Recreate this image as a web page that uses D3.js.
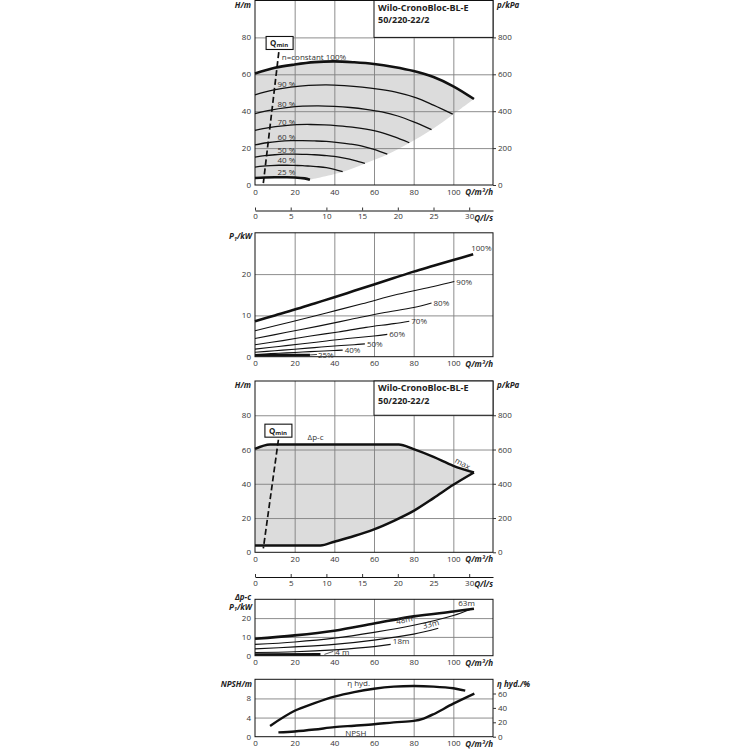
<!DOCTYPE html>
<html>
<head>
<meta charset="utf-8">
<script src="https://cdn.jsdelivr.net/npm/d3@7"></script>
<style>
body { margin: 0; background: #fff; }
svg { display: block; }
</style>
</head>
<body>
<script>
// ---- data ----
const flowTicks = [0, 20, 40, 60, 80, 100];
const flowGrid = [20, 40, 60, 80, 100];
const litreTicks = [0, 5, 10, 15, 20, 25, 30];
const headTicks = [0, 20, 40, 60, 80];
const pressureTicks = [0, 200, 400, 600, 800];
const powerTicks = [0, 10, 20];
const npshTicks = [0, 4, 8];
const effTicks = [0, 20, 40, 60];
const titleLines = ['Wilo-CronoBloc-BL-E', '50/220-22/2'];

// H(Q) at constant speed, [Q m3/h, H m]
const head100 = [[0,60.4],[10,63.5],[20,65.3],[30,66.6],[40,67],[50,66.5],[60,65.6],[70,64],[80,61.8],[90,58.5],[100,53.5],[110.4,46.6]];
const head90 = [[0,48.9],[9,51.4],[18,53],[27,54],[36,54.3],[45,53.9],[54,53.1],[63,51.8],[72,50.1],[81,47.4],[90,43.3],[99.7,38.4]];
const head80 = [[0,38.7],[8,40.6],[16,41.9],[24,42.7],[32,42.9],[40,42.6],[48,42],[56,41],[64,39.6],[72,37.4],[80,34.2],[89,30]];
const head70 = [[0,29.6],[7,31.1],[14,32.1],[21,32.7],[28,32.8],[35,32.6],[42,32.1],[49,31.4],[56,30.3],[63,28.7],[70,26.2],[77.8,22.9]];
const head60 = [[0,21.7],[6,22.9],[12,23.6],[18,24],[24,24.1],[30,23.9],[36,23.6],[42,23],[48,22.2],[54,21.1],[60,19.3],[66.7,16.7]];
const head50 = [[0,15.1],[5,15.9],[10,16.4],[15,16.7],[20,16.75],[25,16.6],[30,16.4],[35,16],[40,15.5],[45,14.6],[50,13.4],[55.4,11.7]];
const head40 = [[0,9.7],[4,10.2],[8,10.5],[12,10.7],[16,10.7],[20,10.6],[24,10.5],[28,10.2],[32,9.9],[36,9.4],[40,8.5],[44.2,7.2]];
const head25 = [[0,3.8],[5,4.1],[10,4.2],[15,4.2],[20,4.1],[25,3.6],[27.7,2.9]];
const headNames = ['n=constant 100%', '90 %', '80 %', '70 %', '60 %', '50 %', '40 %', '25 %'];
const shadeEdge = [[110.4,46.6],[100,38.4],[89,30],[78,22.9],[67,16.7],[55.5,11.7],[44.5,7.2],[27.7,2.9]];
const qminLine1 = [[12,72],[4.2,1]];

// P1(Q) at constant speed, [Q, kW]
const power100 = [[0,8.6],[10,10],[20,11.4],[30,12.9],[40,14.4],[50,15.95],[60,17.5],[70,19.05],[80,20.6],[90,22],[100,23.4],[110,24.8]];
const power90 = [[0,6.3],[18,8.4],[36,10.6],[54,12.8],[72,15.1],[90,17],[100.5,18.2]];
const power80 = [[0,4.4],[16,5.9],[32,7.4],[48,9],[64,10.6],[80,11.9],[89,13]];
const power70 = [[0,2.9],[14,3.9],[28,5],[42,6],[56,7.1],[70,8],[77.8,8.6]];
const power60 = [[0,1.84],[12,2.48],[24,3.13],[36,3.8],[48,4.47],[60,5.03],[66.7,5.4]];
const power50 = [[0,1.06],[10,1.44],[20,1.81],[30,2.2],[40,2.59],[50,2.91],[55.4,3.1]];
const power40 = [[0,0.54],[8,0.74],[16,0.93],[24,1.13],[32,1.32],[40,1.49],[44.2,1.6]];
const power25 = [[0,0.35],[14,0.38],[27.7,0.42]];
const powerNames = ['100%', '90%', '80%', '70%', '60%', '50%', '40%', '25%'];

// delta p-c control range
const dpcUpper = [[0,60.4],[7.6,63],[40,63],[72.5,63],[80,60.2],[90,55.7],[100,50.5],[110.4,46.6]];
const dpcLower = [[0,4],[33,4],[40,6.2],[50,9.5],[60,13.4],[70,18.4],[80,24.2],[90,31.6],[100,39.4],[110.4,46.6]];
const qminLine3 = [[11.8,65.7],[4.2,2.3]];

// P1 at constant differential pressure
const dpcPower63 = [[0,9],[20,10.8],[40,13.3],[60,17.1],[80,20.9],[100,23.5],[110.4,25]];
const dpcPower48 = [[0,6],[20,7.3],[40,9.3],[60,12.4],[80,16.2],[100,21.4],[108.5,24.6]];
const dpcPower33 = [[0,3.6],[20,4.7],[40,6],[60,8.3],[80,11.5],[92.4,14.6]];
const dpcPower18 = [[0,1.7],[20,2.1],[40,3.1],[60,4.8],[68.4,6]];
const dpcPower4 = [[0,0.6],[33,0.7]];
const dpcNames = ['63m', '48m', '33m', '18m', '4 m'];

// efficiency and NPSH
const effHyd = [[7.6,15],[20,36],[30,46.5],[40,55.6],[50,62],[60,66.6],[70,69.5],[80,70.4],[90,69.6],[100,67.3],[106,64]];
const npsh = [[11.8,0.9],[20,1.1],[30,1.5],[40,2],[50,2.3],[60,2.6],[70,3],[80,3.3],[85,3.8],[90,4.7],[100,6.9],[110.6,9]];

// ---- drawing ----
const GRID = '#808080';
const INK = '#111';
const TXT = '#333';
const SHADE = '#dcdcdc';
const FONT = '"Open Sans", "DejaVu Sans", sans-serif';

function trans(x, y) {
	return 'translate(' + x + ',' + y + ')';
}

const svg = d3.select('body').append('svg')
	.attr('width', 750)
	.attr('height', 750)
	.attr('font-family', FONT);

const xQ = d3.scaleLinear().domain([0, 120]).range([255, 493]);
const xLs = d3.scaleLinear().domain([0, 120 / 3.6]).range([255, 493]);

function lineFor(y, curveType) {
	return d3.line().x(d => xQ(d[0])).y(d => y(d[1]))
		.curve(curveType || d3.curveCatmullRom.alpha(0.5));
}

function styleAxis(a) {
	a.attr('font-size', 8).attr('font-family', FONT).attr('color', TXT);
}

function axisTitle(x, y, html, anchor) {
	svg.append('text')
		.attr('x', x).attr('y', y)
		.attr('font-size', 8).attr('font-weight', 'bold').attr('font-style', 'italic')
		.attr('fill', '#222')
		.attr('text-anchor', anchor || 'start')
		.html(html);
}

function label(x, y, txt, rot) {
	const t = svg.append('text')
		.attr('x', x).attr('y', y)
		.attr('font-size', 8).attr('fill', TXT)
		.text(txt);
	if (rot) t.attr('transform', 'rotate(' + rot + ',' + x + ',' + y + ')');
	return t;
}

function frame(y, hGrid, leftTicks) {
	const y0 = y.range()[0], y1 = y.range()[1];
	const g = svg.append('g');
	g.append('g').attr('transform', trans(0, y0))
		.call(d3.axisBottom(xQ).tickValues(flowGrid).tickSize(-(y0 - y1)).tickFormat(''))
		.call(a => a.select('.domain').remove())
		.attr('color', GRID)
		.selectAll('line').attr('stroke-width', 0.9);
	g.append('g').attr('transform', trans(xQ(0), 0))
		.call(d3.axisLeft(y).tickValues(hGrid).tickSize(-(xQ(120) - xQ(0))).tickFormat(''))
		.call(a => a.select('.domain').remove())
		.attr('color', GRID)
		.selectAll('line').attr('stroke-width', 0.9);
	g.append('g').attr('transform', trans(xQ(0), 0))
		.call(d3.axisLeft(y).tickValues(leftTicks).tickSize(0).tickPadding(4))
		.call(a => a.select('.domain').remove())
		.call(styleAxis);
	g.append('g').attr('transform', trans(0, y0))
		.call(d3.axisBottom(xQ).tickValues(flowTicks).tickSize(0).tickPadding(4))
		.call(a => a.select('.domain').remove())
		.call(styleAxis);
	g.append('rect')
		.attr('x', xQ(0)).attr('y', y1)
		.attr('width', xQ(120) - xQ(0)).attr('height', y0 - y1)
		.attr('fill', 'none').attr('stroke', INK).attr('stroke-width', 1);
	axisTitle(xQ(120), y0 + 10, 'Q/m³/h', 'end');
}

function rightAxis(y, ticks) {
	svg.append('g').attr('transform', trans(xQ(120), 0))
		.call(d3.axisRight(y).tickValues(ticks).tickSize(3).tickPadding(2))
		.call(a => a.select('.domain').remove())
		.call(styleAxis);
}

function litreAxis(yPos) {
	svg.append('g').attr('transform', trans(0, yPos))
		.call(d3.axisBottom(xLs).tickValues(litreTicks).tickSizeInner(-3).tickSizeOuter(0).tickPadding(3))
		.call(styleAxis)
		.call(a => a.select('.domain').attr('stroke', INK));
	axisTitle(xQ(120), yPos + 10, 'Q/l/s', 'end');
}

function titleBox(y) {
	const top = y.range()[1];
	svg.append('rect')
		.attr('x', xQ(60)).attr('y', top)
		.attr('width', xQ(120) - xQ(60)).attr('height', y(80) - top)
		.attr('fill', '#fff').attr('stroke', INK).attr('stroke-width', 1);
	svg.selectAll(null)
		.data(titleLines)
		.enter().append('text')
		.attr('x', xQ(60) + 4)
		.attr('y', (d, i) => top + 10 + i * 12.5)
		.attr('font-size', 9).attr('font-weight', 'bold').attr('fill', '#222')
		.text(d => d);
}

function qmin(y, boxQ, boxH, pts) {
	const bx = xQ(boxQ), by = y(boxH);
	svg.append('path')
		.attr('d', d3.line().x(d => xQ(d[0])).y(d => y(d[1]))(pts))
		.attr('fill', 'none').attr('stroke', INK)
		.attr('stroke-width', 1.7).attr('stroke-dasharray', '6,3');
	svg.append('rect')
		.attr('x', bx).attr('y', by).attr('width', 27).attr('height', 13)
		.attr('fill', '#fff').attr('stroke', INK).attr('stroke-width', 1.1);
	const t = svg.append('text')
		.attr('x', bx + 4).attr('y', by + 9.5)
		.attr('font-size', 8).attr('font-weight', 'bold').attr('fill', '#222');
	t.append('tspan').text('Q');
	t.append('tspan').attr('font-size', 6).attr('dy', 1.5).text('min');
}

function curve(line, data, w) {
	svg.append('path')
		.attr('d', line(data))
		.attr('fill', 'none').attr('stroke', INK)
		.attr('stroke-width', w).attr('stroke-linecap', 'butt');
}

// ---------- chart 1: H(Q) at constant speed ----------
const yH1 = d3.scaleLinear().domain([0, 100]).range([185, 0.5]);
const yK1 = d3.scaleLinear().domain([0, 1000]).range([185, 0.5]);
const line1 = lineFor(yH1);
const edge1 = d3.line().x(d => xQ(d[0])).y(d => yH1(d[1])).curve(d3.curveCatmullRom.alpha(0.5));

svg.append('path')
	.attr('d', line1(head100) + edge1(shadeEdge).replace('M', 'L') +
		line1(head25.slice().reverse()).replace('M', 'L') + 'Z')
	.attr('fill', SHADE);
frame(yH1, [20, 40, 60, 80], headTicks);
rightAxis(yK1, pressureTicks);
titleBox(yH1);
axisTitle(251, 8, 'H/m', 'end');
axisTitle(497, 8, 'p/kPa');
litreAxis(210.5);

const headCurves = [head100, head90, head80, head70, head60, head50, head40, head25];
headCurves.forEach((c, i) => {
	const thick = i === 0 || i === headCurves.length - 1;
	curve(line1, c, thick ? 2.6 : 1.3);
	const at = d3.scaleLinear().domain(c.map(d => d[0])).range(c.map(d => d[1]));
	if (i === 0) label(xQ(13.5), yH1(at(14)) - 7, headNames[i]);
	else label(xQ(11.3), yH1(at(12)) - 1.8, headNames[i]);
});
qmin(yH1, 5.6, 80.5, qminLine1);

// ---------- chart 2: P1(Q) at constant speed ----------
const yP2 = d3.scaleLinear().domain([0, 30]).range([356.7, 232.8]);
const line2 = lineFor(yP2);
frame(yP2, [10, 20], powerTicks);
axisTitle(252, 239, 'P<tspan font-size="5.5" dy="1.5">1</tspan><tspan dy="-1.5">/kW</tspan>', 'end');

const powerCurves = [power100, power90, power80, power70, power60, power50, power40, power25];
powerCurves.forEach((c, i) => {
	const thick = i === 0 || i === powerCurves.length - 1;
	curve(line2, c, thick ? 2.6 : 1.1);
	const end = c[c.length - 1];
	const ex = xQ(end[0]), ey = yP2(end[1]);
	if (i === 0) {
		label(ex - 2, ey - 3, powerNames[i]);
	} else {
		const gap = i === powerCurves.length - 1 ? 8 : 2;
		if (gap > 2) {
			svg.append('line').attr('x1', ex).attr('y1', ey).attr('x2', ex + gap - 1).attr('y2', ey - 0.5)
				.attr('stroke', INK).attr('stroke-width', 0.8);
		}
		label(ex + gap, ey + 3, powerNames[i]);
	}
});

// ---------- chart 3: delta p-c range ----------
const yH3 = d3.scaleLinear().domain([0, 100]).range([552.3, 381]);
const yK3 = d3.scaleLinear().domain([0, 1000]).range([552.3, 381]);
const line3 = lineFor(yH3, d3.curveMonotoneX);

svg.append('path')
	.attr('d', line3(dpcUpper) + line3(dpcLower.slice().reverse()).replace('M', 'L') + 'Z')
	.attr('fill', SHADE);
frame(yH3, [20, 40, 60, 80], headTicks);
rightAxis(yK3, pressureTicks);
titleBox(yH3);
axisTitle(251, 388, 'H/m', 'end');
axisTitle(497, 388, 'p/kPa');
litreAxis(577);
curve(line3, dpcUpper, 2.5);
curve(line3, dpcLower, 2.5);
qmin(yH3, 5, 74.8, qminLine3);
label(xQ(26.5), yH3(65.5), 'Δp-c');
label(xQ(100.5), yH3(52.5), 'max.', 28);

// ---------- chart 4: P1 at delta p-c ----------
const yP4 = d3.scaleLinear().domain([0, 30]).range([655.7, 599.3]);
const line4 = lineFor(yP4);
frame(yP4, [10, 20], powerTicks);
axisTitle(251, 600, 'Δp-c', 'end');
axisTitle(252, 610, 'P<tspan font-size="5.5" dy="1.2">1</tspan><tspan dy="-1.2">/kW</tspan>', 'end');

const dpcCurves = [dpcPower63, dpcPower48, dpcPower33, dpcPower18, dpcPower4];
dpcCurves.forEach((c, i) => {
	const thick = i === 0 || i === dpcCurves.length - 1;
	curve(line4, c, thick ? 2.6 : 1.2);
});
label(xQ(102.5), yP4(26.3), dpcNames[0]);
label(xQ(71.5), yP4(16.6), dpcNames[1], -12);
label(xQ(85), yP4(14.2), dpcNames[2], -15);
label(xQ(69.5), yP4(6.2), dpcNames[3]);
label(xQ(40.5), yP4(0.3), dpcNames[4]);
svg.append('line')
	.attr('x1', xQ(35)).attr('y1', yP4(0.7)).attr('x2', xQ(39.5)).attr('y2', yP4(2.3))
	.attr('stroke', INK).attr('stroke-width', 0.7);

// ---------- chart 5: NPSH and efficiency ----------
const yN5 = d3.scaleLinear().domain([0, 12]).range([736.7, 679.3]);
const yE5 = d3.scaleLinear().domain([0, 80]).range([736.7, 679.1]);
frame(yN5, [4, 8], npshTicks);
rightAxis(yE5, effTicks);
axisTitle(252, 687, 'NPSH/m', 'end');
axisTitle(497, 687, 'η hyd./%');
curve(lineFor(yE5), effHyd, 2.4);
curve(lineFor(yN5), npsh, 2.4);
label(xQ(46.5), yE5(71), 'η hyd.');
label(xQ(45.5), yN5(0.1), 'NPSH');
</script>
</body>
</html>
